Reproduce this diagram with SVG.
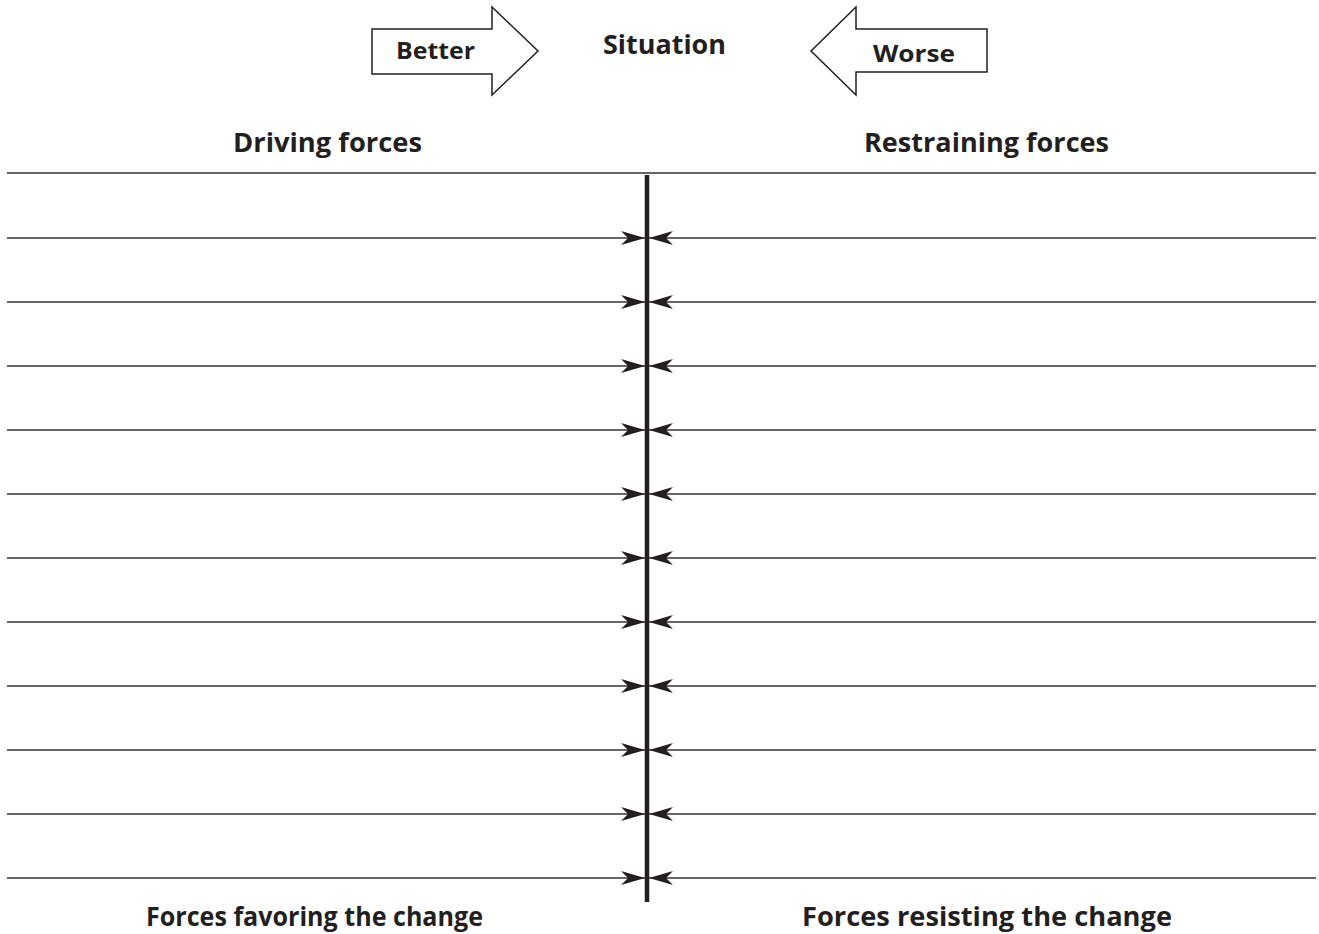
<svg xmlns="http://www.w3.org/2000/svg" width="1319" height="934" viewBox="0 0 1319 934">
<style>
text{font-family:"Open Sans",Lato,"Liberation Sans",sans-serif;font-weight:bold;fill:#231f20;font-size:27px}
.sm{font-size:24px}
.big{fill:#fff;stroke:#231f20;stroke-width:1.5;stroke-linejoin:miter}
.ln{stroke:#333;stroke-width:1.5;fill:none}
.ax{stroke:#231f20;stroke-width:4.5}
</style>
<defs>
<marker id="ah" viewBox="0 0 24 14" refX="24" refY="7" markerWidth="24" markerHeight="14" markerUnits="userSpaceOnUse" orient="auto">
<path d="M0,0 L24,7 L0,14 L7,7 Z" fill="#231f20"/>
</marker>
</defs>
<rect width="1319" height="934" fill="#fff"/>
<g id="better">
<path class="big" d="M372,29 H492 V7 L538,51 L492,95 V74 H372 Z"/>
<text class="sm" x="396" y="59" textLength="79" lengthAdjust="spacingAndGlyphs">Better</text>
</g>
<g id="situation">
<text x="603" y="54" textLength="123" lengthAdjust="spacingAndGlyphs">Situation</text>
</g>
<g id="worse">
<path class="big" d="M987,29 H856 V7 L811,51 L856,95 V72 H987 Z"/>
<text class="sm" x="873" y="62" textLength="82" lengthAdjust="spacingAndGlyphs">Worse</text>
</g>
<g id="driving-label"><text x="233" y="152" textLength="189" lengthAdjust="spacingAndGlyphs">Driving forces</text></g>
<g id="restraining-label"><text x="864" y="152" textLength="245" lengthAdjust="spacingAndGlyphs">Restraining forces</text></g>
<g id="favoring-label"><text x="146" y="926" textLength="337" lengthAdjust="spacingAndGlyphs">Forces favoring the change</text></g>
<g id="resisting-label"><text x="802" y="926" textLength="370" lengthAdjust="spacingAndGlyphs">Forces resisting the change</text></g>
<g id="connectors">
<line class="ln" x1="7" y1="173" x2="1316" y2="173"/>
<line class="ax" x1="647" y1="175" x2="647" y2="902"/>
<g marker-end="url(#ah)" class="ln">
<line x1="7" y1="238" x2="645" y2="238"/>
<line x1="7" y1="302" x2="645" y2="302"/>
<line x1="7" y1="366" x2="645" y2="366"/>
<line x1="7" y1="430" x2="645" y2="430"/>
<line x1="7" y1="494" x2="645" y2="494"/>
<line x1="7" y1="558" x2="645" y2="558"/>
<line x1="7" y1="622" x2="645" y2="622"/>
<line x1="7" y1="686" x2="645" y2="686"/>
<line x1="7" y1="750" x2="645" y2="750"/>
<line x1="7" y1="814" x2="645" y2="814"/>
<line x1="7" y1="878" x2="645" y2="878"/>
<line x1="1316" y1="238" x2="649" y2="238"/>
<line x1="1316" y1="302" x2="649" y2="302"/>
<line x1="1316" y1="366" x2="649" y2="366"/>
<line x1="1316" y1="430" x2="649" y2="430"/>
<line x1="1316" y1="494" x2="649" y2="494"/>
<line x1="1316" y1="558" x2="649" y2="558"/>
<line x1="1316" y1="622" x2="649" y2="622"/>
<line x1="1316" y1="686" x2="649" y2="686"/>
<line x1="1316" y1="750" x2="649" y2="750"/>
<line x1="1316" y1="814" x2="649" y2="814"/>
<line x1="1316" y1="878" x2="649" y2="878"/>
</g>
</g>
</svg>
